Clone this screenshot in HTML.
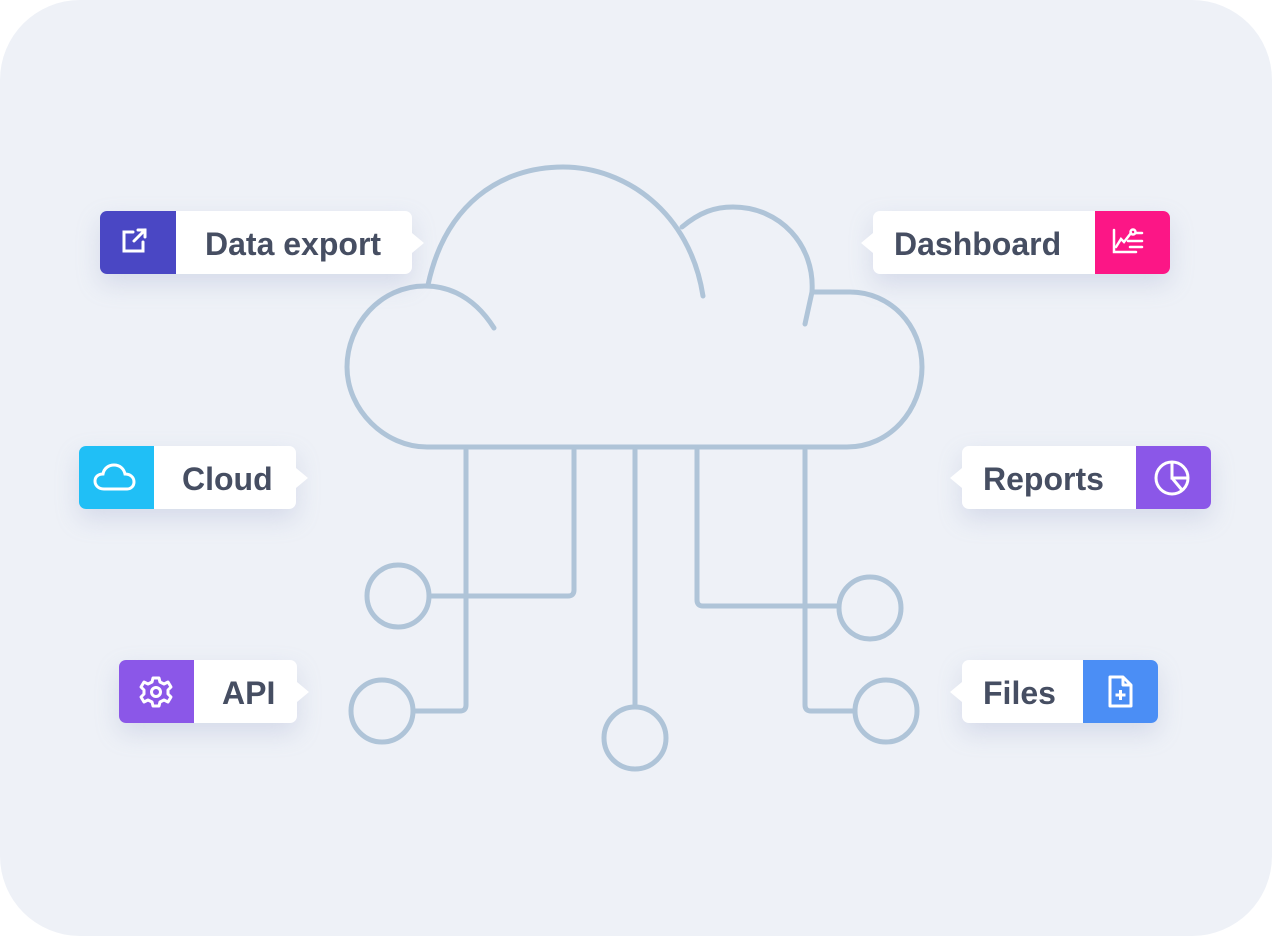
<!DOCTYPE html>
<html><head><meta charset="utf-8"><style>
html,body{margin:0;padding:0;background:#fff;}
body{width:1272px;height:936px;position:relative;overflow:hidden;font-family:"Liberation Sans",sans-serif;}
.bg{position:absolute;left:0;top:0;width:1272px;height:936px;background:#eef1f7;border-radius:80px;}
.lb{position:absolute;height:63px;background:#fff;border-radius:7px;box-shadow:0 10px 24px rgba(150,160,200,0.28);}
.ic{position:absolute;top:0;width:76px;height:63px;}
.tx{position:absolute;top:2px;line-height:63px;font-size:32px;font-weight:bold;color:#464e62;letter-spacing:0px;}
.pt{position:absolute;top:22px;width:0;height:0;border-top:10px solid transparent;border-bottom:10px solid transparent;}
.pr{border-left:12px solid #fff;}
.pl{border-right:12px solid #fff;}
svg.c{position:absolute;left:0;top:0;}
</style></head><body>
<div class="bg"></div>
<svg class="c" width="1272" height="936" fill="none" stroke="#afc4d8" stroke-width="5" stroke-linecap="round" stroke-linejoin="round">
<path d="M494,328 C470,290 440,286 425,286 C380,286 347,325 347,367 C347,410 385,447 427,447 L847,447 C890,447 922,410 922,367 C922,325 890,292 850,292 L812,292"/>
<path d="M682,227 C700,212 715,207 733,207 C780,207 815,245 812,292 L805,324"/>
<path d="M428,285 C445,205 500,167 563,167 C625,167 690,212 703,296"/>
<path d="M466,450 L466,705 Q466,711 460,711 L413,711"/>
<circle cx="382" cy="711" r="31"/>
<path d="M574,450 L574,590 Q574,596 568,596 L429,596"/>
<circle cx="398" cy="596" r="31"/>
<path d="M635,450 L635,707"/>
<circle cx="635" cy="738" r="31"/>
<path d="M697,450 L697,600 Q697,606 703,606 L839,606"/>
<circle cx="870" cy="608" r="31"/>
<path d="M805,450 L805,705 Q805,711 811,711 L855,711"/>
<circle cx="886" cy="711" r="31"/>
</svg>

<!-- Data export -->
<div class="lb" style="left:100px;top:211px;width:312px;">
<div class="ic" style="left:0;background:#4a47c4;border-radius:7px 0 0 7px;">
<svg width="76" height="63" fill="none" stroke="#fff" stroke-width="3" stroke-linecap="round"><path d="M33,21 H24 V40 H43 V31"/><path d="M34,30 L45,19 M38,19 H45 V26"/></svg></div>
<div class="tx" style="left:105px;">Data export</div>
<div class="pt pr" style="left:312px;"></div></div>

<!-- Dashboard -->
<div class="lb" style="left:873px;top:211px;width:297px;">
<div class="pt pl" style="left:-12px;"></div>
<div class="tx" style="left:21px;">Dashboard</div>
<div class="ic" style="left:222px;width:75px;background:#fc1686;border-radius:0 7px 7px 0;">
<svg width="75" height="63" fill="none" stroke="#fff" stroke-width="2.5" stroke-linecap="round"><path d="M19,19 V41 H41"/><path d="M21,36 L26,28 L29,31 L36,22"/><circle cx="38" cy="21" r="2.5"/><path d="M41,22 H47 M33,30 H47 M35,36 H47"/></svg></div></div>

<!-- Cloud -->
<div class="lb" style="left:79px;top:446px;width:217px;">
<div class="ic" style="left:0;width:75px;background:#20bff6;border-radius:7px 0 0 7px;">
<svg width="75" height="63" fill="none" stroke="#fff" stroke-width="3"><path d="M25,43 C19,43 16,39 16,35 C16,31 19,28 24,28 C25,22 30,19 35,19 C41,19 45,23 46,28 C51,28 55,31 55,36 C55,40 52,43 48,43 Z"/></svg></div>
<div class="tx" style="left:103px;">Cloud</div>
<div class="pt pr" style="left:217px;"></div></div>

<!-- Reports -->
<div class="lb" style="left:962px;top:446px;width:249px;">
<div class="pt pl" style="left:-12px;"></div>
<div class="tx" style="left:21px;">Reports</div>
<div class="ic" style="left:174px;width:75px;background:#8b57e8;border-radius:0 7px 7px 0;">
<svg width="75" height="63" fill="none" stroke="#fff" stroke-width="3"><circle cx="36" cy="32" r="16"/><path d="M36,16 V32 H52 M36,32 L46,44"/></svg></div></div>

<!-- API -->
<div class="lb" style="left:119px;top:660px;width:178px;">
<div class="ic" style="left:0;width:75px;background:#8b57e8;border-radius:7px 0 0 7px;">
<svg width="75" height="63" fill="none" stroke="#fff" stroke-width="3" stroke-linejoin="round"><circle cx="37" cy="32" r="4.5"/><path d="M34,18 H40 L41,22 L45,24 L49,22 L52,27 L49,30 V34 L52,37 L49,42 L45,40 L41,42 L40,46 H34 L33,42 L29,40 L25,42 L22,37 L25,34 V30 L22,27 L25,22 L29,24 L33,22 Z"/></svg></div>
<div class="tx" style="left:103px;">API</div>
<div class="pt pr" style="left:178px;"></div></div>

<!-- Files -->
<div class="lb" style="left:962px;top:660px;width:196px;">
<div class="pt pl" style="left:-12px;"></div>
<div class="tx" style="left:21px;">Files</div>
<div class="ic" style="left:121px;width:75px;background:#4b8ef5;border-radius:0 7px 7px 0;">
<svg width="75" height="63" fill="none" stroke="#fff" stroke-width="3" stroke-linejoin="round"><path d="M27,17 H40 L48,25 V46 H27 Z"/><path d="M40,17 V25 H48"/><path d="M37.5,30 V40 M32.5,35 H42.5"/></svg></div></div>
</body></html>
